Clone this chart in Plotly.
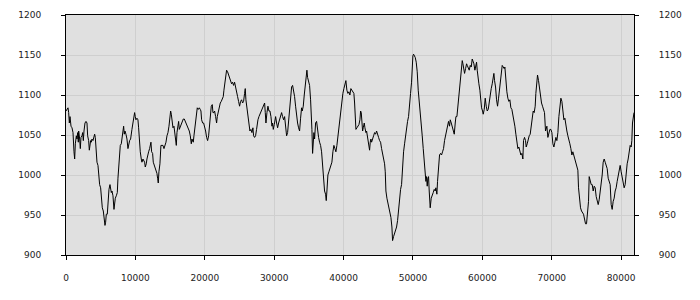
import plotly.graph_objects as go

x_vals = [0, 288, 384, 480, 576, 720, 864, 1008, 1152, 1248, 1344, 1488, 1584, 1680, 1776, 1824, 1968, 2064, 2160, 2304,
          2400, 2496, 2592, 2736, 2880, 3024, 3120, 3264, 3360, 3456, 3552, 3648, 3744, 3888, 4032, 4128, 4224, 4320, 4464, 4608,
          4704, 4848, 4992, 5088, 5232, 5376, 5520, 5616, 5712, 5808, 5952, 6048, 6192, 6336, 6432, 6528, 6624, 6768, 6912, 7008,
          7104, 7248, 7392, 7488, 7584, 7728, 7824, 7968, 8064, 8160, 8304, 8400, 8496, 8640, 8784, 8928, 9024, 9168, 9312, 9408,
          9504, 9648, 9744, 9888, 9984, 10080, 10224, 10368, 10464, 10608, 10704, 10848, 10944, 11088, 11184, 11328, 11424, 11568, 11664, 11808,
          11904, 12048, 12144, 12240, 12336, 12480, 12576, 12720, 12864, 13008, 13104, 13200, 13296, 13392, 13536, 13680, 13824,
          13974, 14118, 14262, 14406, 14550, 14694, 14838, 14982, 15078, 15174, 15318, 15414, 15558, 15654, 15798, 15894, 15990, 16134, 16230,
          16326, 16470, 16614, 16758, 16902, 17046, 17190, 17334, 17478, 17622, 17766, 17910, 18054, 18150, 18246, 18342, 18438, 18534, 18678,
          18822, 18918, 19062, 19206, 19350, 19446, 19542, 19686, 19830, 19974, 20118, 20262, 20406, 20550, 20694, 20838, 20934, 21078, 21174,
          21318, 21414, 21558, 21702, 21798, 21942, 22086, 22230, 22374, 22518, 22662, 22758, 22902, 23046, 23142, 23286, 23430, 23574, 23718,
          23862, 24006, 24150, 24294, 24438, 24582, 24726, 24870, 25014, 25158, 25302, 25446, 25590, 25734, 25830, 25926, 26070, 26214, 26358,
          26502, 26646, 26790, 26934, 27030, 27174, 27318, 27462, 27606,
          27661, 27805, 27949, 28093, 28237, 28381, 28525, 28621, 28717, 28813, 28957, 29101, 29245, 29389, 29533, 29677, 29773, 29869, 30013,
          30109, 30205, 30349, 30493, 30637, 30781, 30925, 31069, 31213, 31357, 31501, 31645, 31789, 31933, 32077, 32221, 32365, 32509, 32653,
          32797, 32941, 33085, 33229, 33373, 33517, 33661, 33805, 33949, 34045, 34189, 34333, 34477, 34621, 34717, 34813, 34957, 35101, 35245,
          35341, 35437, 35533, 35629, 35725, 35821, 35965, 36109, 36253, 36397, 36541, 36685, 36829, 36973, 37117, 37261, 37405, 37501, 37597,
          37741, 37885, 38029, 38173, 38317, 38461, 38605, 38749, 38893, 39037, 39181, 39325, 39469, 39613, 39757, 39901, 40045, 40189, 40333,
          40477, 40621, 40765, 40909, 41053, 41197, 41341, 41485,
          41588, 41684, 41780, 41924, 42068, 42212, 42356, 42452, 42548, 42644, 42740, 42836, 42980, 43076, 43220, 43316, 43412, 43556, 43652,
          43748, 43844, 43940, 44036, 44180, 44324, 44468, 44612, 44756, 44900, 45044, 45188, 45332, 45476, 45620, 45764, 45908, 46004, 46100,
          46244, 46388, 46532, 46676, 46820, 46964, 47060, 47204, 47348, 47492, 47636, 47780, 47924, 48068, 48212, 48356, 48500, 48644, 48788,
          48932, 49076, 49220, 49364, 49508, 49652, 49796, 49892, 49988, 50084, 50180, 50324, 50468, 50612, 50756, 50900, 51044, 51188, 51332,
          51476, 51620, 51764, 51860, 51956, 52052, 52148, 52244, 52340, 52484, 52628, 52772, 52916, 53060, 53204, 53300, 53444, 53540, 53684,
          53828, 53972, 54116, 54260, 54404, 54548, 54692, 54836, 54980, 55124, 55268,
          55371, 55515, 55659, 55803, 55947, 56091, 56187, 56331, 56475, 56571, 56715, 56859, 57003, 57099, 57195, 57291, 57435, 57579, 57723,
          57819, 57963, 58107, 58251, 58395, 58539, 58635, 58779, 58923, 59067, 59163, 59259, 59355, 59499, 59643, 59739, 59883, 60027, 60123,
          60267, 60411, 60555, 60699, 60843, 60987, 61131, 61275, 61419, 61563, 61659, 61755, 61899, 62043, 62187, 62331, 62475, 62619, 62763,
          62859, 63003, 63147, 63243, 63387, 63531, 63675, 63819, 63963, 64107, 64251, 64395, 64539, 64683, 64827, 64971, 65115, 65259, 65403,
          65547, 65691, 65835, 65931, 66075, 66219, 66315, 66459, 66603, 66747, 66891, 67035, 67179, 67323, 67467, 67611, 67707, 67803, 67947,
          68091, 68235, 68379, 68523, 68667, 68811, 68955, 69099,
          69297, 69441, 69585, 69729, 69873, 70017, 70161, 70305, 70449, 70593, 70737, 70881, 71025, 71169, 71313, 71457, 71601, 71745, 71889,
          72033, 72177, 72321, 72465, 72609, 72753, 72897, 73041, 73185, 73329, 73473, 73617, 73761, 73857, 74001, 74145, 74289, 74433, 74577,
          74721, 74865, 75009, 75153, 75297, 75393, 75537, 75681, 75825, 75969, 76113, 76257, 76401, 76545, 76689, 76833, 76977, 77121, 77265,
          77409, 77553, 77697, 77841, 77985, 78129, 78273, 78417, 78561, 78705, 78849, 78993, 79137, 79281, 79425, 79569, 79713, 79857, 80001,
          80145, 80289, 80433, 80577, 80721, 80865, 81009, 81153, 81297, 81441, 81537, 81633, 81729, 81850]

y_vals = [1080, 1084, 1078, 1065, 1073, 1061, 1059, 1053, 1029, 1020, 1039, 1049, 1045, 1053, 1041, 1055, 1045, 1033, 1047, 1049,
          1053, 1043, 1055, 1065, 1067, 1065, 1049, 1043, 1031, 1039, 1043, 1041, 1045, 1043, 1049, 1051, 1047, 1029, 1016, 1012,
          1000, 988, 984, 972, 959, 955, 943, 937, 941, 951, 951, 967, 982, 988, 980, 978, 980, 974, 957, 969,
          971, 974, 978, 996, 1006, 1029, 1037, 1039, 1047, 1053, 1061, 1051, 1055, 1051, 1045, 1033, 1039, 1043, 1045, 1049,
          1057, 1065, 1073, 1078, 1073, 1069, 1071, 1069, 1059, 1037, 1029, 1020, 1016, 1020, 1018, 1016, 1010, 1014, 1020, 1027,
          1029, 1033, 1037, 1041, 1029, 1027, 1016, 1012, 1006, 1004, 1002, 996, 990, 1004, 1014, 1037, 1037,
          1037, 1033, 1037, 1041, 1049, 1053, 1061, 1078, 1080, 1076, 1069, 1059, 1061, 1055, 1049, 1037, 1053, 1061, 1067,
          1057, 1061, 1065, 1067, 1070, 1070, 1067, 1065, 1061, 1057, 1055, 1049, 1039, 1045, 1043, 1041, 1049, 1057, 1067,
          1082, 1084, 1082, 1084, 1082, 1080, 1069, 1065, 1065, 1061, 1055, 1047, 1043, 1049, 1061, 1073, 1086, 1088, 1078,
          1078, 1080, 1073, 1065, 1073, 1078, 1086, 1090, 1092, 1096, 1098, 1106, 1114, 1122, 1131, 1129, 1125, 1122, 1118,
          1114, 1116, 1112, 1116, 1108, 1102, 1098, 1092, 1086, 1092, 1094, 1090, 1092, 1102, 1108, 1094, 1082, 1073, 1065,
          1055, 1057, 1053, 1059, 1049, 1047, 1049, 1057, 1067,
          1069, 1073, 1076, 1078, 1082, 1084, 1088, 1090, 1078, 1065, 1078, 1086, 1080, 1080, 1073, 1061, 1065, 1057, 1063,
          1073, 1073, 1065, 1059, 1065, 1069, 1076, 1078, 1073, 1069, 1073, 1057, 1049, 1053, 1069, 1086, 1102, 1110, 1112,
          1106, 1098, 1086, 1073, 1065, 1059, 1055, 1071, 1084, 1080, 1086, 1100, 1114, 1129, 1131, 1122, 1116, 1112, 1094,
          1078, 1057, 1027, 1037, 1053, 1045, 1065, 1067, 1053, 1047, 1041, 1037, 1029, 1012, 996, 980, 976, 968, 980,
          1000, 1004, 1008, 1012, 1016, 1029, 1037, 1033, 1029, 1037, 1049, 1053, 1069, 1086, 1094, 1102, 1108, 1112, 1118,
          1106, 1102, 1104, 1100, 1108, 1106, 1104, 1102,
          1090, 1078, 1057, 1059, 1061, 1063, 1069, 1080, 1078, 1069, 1055, 1059, 1065, 1059, 1053, 1055, 1049, 1045, 1037,
          1031, 1041, 1045, 1041, 1047, 1049, 1053, 1051, 1055, 1049, 1047, 1043, 1041, 1033, 1027, 1020, 1014, 1004, 980,
          971, 965, 963, 955, 947, 935, 918, 923, 927, 933, 935, 943, 959, 974, 982, 988, 1012, 1029, 1039,
          1051, 1063, 1067, 1073, 1084, 1102, 1116, 1139, 1149, 1151, 1149, 1147, 1141, 1129, 1106, 1094, 1076, 1061, 1049,
          1033, 1020, 1000, 992, 998, 986, 996, 998, 980, 959, 971, 976, 978, 982, 980, 984, 976, 992, 1012,
          1025, 1027, 1025, 1029, 1033, 1043, 1049, 1057, 1061, 1067, 1061,
          1069, 1065, 1059, 1055, 1051, 1065, 1073, 1073, 1086, 1094, 1106, 1118, 1131, 1143, 1139, 1131, 1127, 1133, 1139,
          1137, 1133, 1131, 1137, 1135, 1145, 1143, 1139, 1131, 1139, 1141, 1131, 1122, 1114, 1106, 1090, 1084, 1080, 1076,
          1082, 1096, 1086, 1080, 1082, 1092, 1102, 1108, 1114, 1120, 1127, 1118, 1110, 1094, 1086, 1096, 1106, 1114, 1129,
          1137, 1135, 1133, 1135, 1116, 1104, 1096, 1092, 1094, 1084, 1082, 1076, 1071, 1061, 1051, 1039, 1033, 1035, 1029,
          1025, 1027, 1020, 1043, 1047, 1043, 1035, 1039, 1045, 1049, 1051, 1059, 1067, 1080, 1078, 1086, 1102, 1114, 1125,
          1118, 1106, 1096, 1090, 1086, 1082, 1078, 1055,
          1061, 1047, 1055, 1057, 1057, 1053, 1039, 1035, 1041, 1047, 1043, 1053, 1073, 1088, 1096, 1092, 1076, 1069, 1071,
          1061, 1055, 1049, 1045, 1039, 1033, 1025, 1029, 1025, 1020, 1014, 1012, 1006, 984, 971, 959, 955, 953, 951,
          945, 939, 939, 951, 967, 998, 994, 988, 988, 980, 986, 984, 973, 967, 963, 969, 978, 988, 1000,
          1016, 1020, 1016, 1012, 1008, 996, 992, 988, 963, 957, 967, 971, 980, 984, 992, 1000, 1008, 1012, 1004,
          996, 986, 984, 988, 1004, 1014, 1020, 1033, 1037, 1035, 1043, 1065, 1073, 1078]

x_ticks = [0, 10000, 20000, 30000, 40000, 50000, 60000, 70000, 80000]
y_ticks = [900, 950, 1000, 1050, 1100, 1150, 1200]

font = dict(family="DejaVu Sans", size=9, color="#222222")

fig = go.Figure()
fig.add_trace(go.Scatter(x=x_vals, y=y_vals, mode="lines",
                         line=dict(color="black", width=1), hoverinfo="skip"))
fig.add_trace(go.Scatter(x=x_vals, y=y_vals, mode="lines", yaxis="y2",
                         line=dict(color="rgba(0,0,0,0)", width=0), hoverinfo="skip"))

axis_common = dict(showline=True, linecolor="black", linewidth=1, ticks="outside",
                   tickcolor="black", ticklen=4, tickfont=font, zeroline=False)

fig.update_layout(
    width=700, height=300,
    margin=dict(l=66, r=66, t=10, b=45),
    paper_bgcolor="white", plot_bgcolor="#e0e0e0",
    showlegend=False,
    xaxis=dict(range=[0, 81850], tickvals=x_ticks, ticktext=[str(v) for v in x_ticks],
               showgrid=True, gridcolor="#cfcfcf", gridwidth=1, mirror=True,
               ticklabelstandoff=10, **axis_common),
    yaxis=dict(range=[900, 1200], tickvals=y_ticks, ticktext=[str(v) for v in y_ticks],
               showgrid=True, gridcolor="#cfcfcf", gridwidth=1,
               ticklabelstandoff=18, **axis_common),
    yaxis2=dict(range=[900, 1200], tickvals=y_ticks, ticktext=[str(v) for v in y_ticks],
                overlaying="y", side="right", showgrid=False,
                ticklabelstandoff=18, **axis_common),
)

fig.write_html("out.html")
